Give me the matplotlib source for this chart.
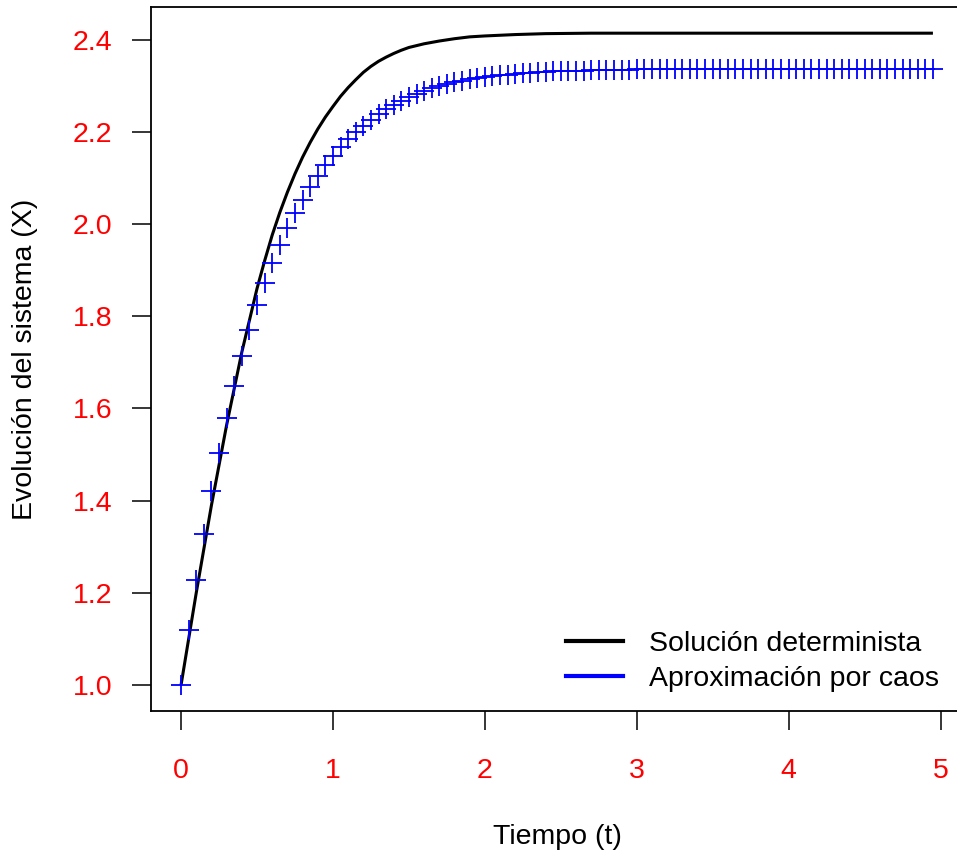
import numpy as np
import matplotlib
matplotlib.use("Agg")
from matplotlib import pyplot as plt
from matplotlib.lines import Line2D

# DATA
t_det = [0.0, 0.1, 0.2, 0.3, 0.4, 0.5, 0.55, 0.6, 0.65, 0.7, 0.75, 0.8, 0.85,
         0.9, 0.95, 1.0, 1.05, 1.1, 1.15, 1.2, 1.25, 1.3, 1.35, 1.4, 1.45, 1.5,
         1.6, 1.7, 1.8, 1.9, 2.0, 2.2, 2.4, 2.7, 3.0, 4.0, 4.95]
x_det = [1.000, 1.200, 1.390, 1.564, 1.722, 1.860, 1.920, 1.976, 2.025, 2.069,
         2.109, 2.145, 2.177, 2.206, 2.232, 2.255, 2.277, 2.296, 2.313, 2.329,
         2.342, 2.353, 2.362, 2.370, 2.377, 2.383, 2.391, 2.397, 2.402, 2.406,
         2.408, 2.411, 2.413, 2.414, 2.414, 2.414, 2.414]

t_pc = np.arange(100) * 0.05
x_pc = [1.000, 1.119, 1.228, 1.328, 1.420, 1.503, 1.580, 1.649, 1.713, 1.771,
        1.824, 1.872, 1.915, 1.954, 1.991, 2.024, 2.053, 2.080, 2.104, 2.127,
        2.147, 2.166, 2.184, 2.199, 2.213, 2.226, 2.238, 2.249, 2.258, 2.267,
        2.275, 2.282, 2.288, 2.294, 2.299, 2.303, 2.307, 2.311, 2.314, 2.317,
        2.319, 2.321, 2.323, 2.324, 2.326, 2.327, 2.328, 2.329, 2.330, 2.331,
        2.332, 2.332, 2.333, 2.333, 2.334, 2.334, 2.334, 2.335, 2.335, 2.335,
        2.336, 2.336, 2.336, 2.336, 2.336, 2.336, 2.336, 2.336, 2.336, 2.336,
        2.336, 2.337, 2.337, 2.337, 2.337, 2.337, 2.337, 2.337, 2.337, 2.337,
        2.337, 2.337, 2.337, 2.337, 2.337, 2.337, 2.337, 2.337, 2.337, 2.337,
        2.337, 2.337, 2.337, 2.337, 2.337, 2.337, 2.337, 2.337, 2.337, 2.337]

x_ticks = [0, 1, 2, 3, 4, 5]
y_ticks = [1.0, 1.2, 1.4, 1.6, 1.8, 2.0, 2.2, 2.4]
legend_labels = ["Solución determinista", "Aproximación por caos"]

plt.rcParams["font.family"] = ["Liberation Sans", "DejaVu Sans"]
fs = 20.5

# FIGURE
W, H = 957, 859
fig = plt.figure(figsize=(W / 100, H / 100), dpi=100)
left, right, top, bottom = 151, 963, 7, 711
ax = fig.add_axes([left / W, 1 - bottom / H, (right - left) / W, (bottom - top) / H])

ax.plot(t_det, x_det, color="black", lw=2.2, solid_capstyle="butt",
        solid_joinstyle="round")
ax.plot(t_pc, x_pc, linestyle="none", marker="+", markersize=14.5,
        markeredgewidth=1.3, color="#0000ff")

ax.set_xlim(-0.198, 5.148)
ax.set_ylim(0.9434, 2.4708)
ax.set_xticks(x_ticks)
ax.set_xticklabels([str(v) for v in x_ticks])
ax.set_yticks(y_ticks)
ax.set_yticklabels(["%.1f" % v for v in y_ticks])
ax.tick_params(axis="x", length=13.5, width=1.1, pad=20, labelsize=fs, labelcolor="red")
ax.tick_params(axis="y", length=13.5, width=1.1, pad=14.5, labelsize=fs, labelcolor="red")
for s in ax.spines.values():
    s.set_linewidth(1.3)

fig.text(557 / W, 1 - 837 / H, "Tiempo (t)", ha="center", va="center", fontsize=fs)
fig.text(25 / W, 1 - 359 / H, "Evolución del sistema (X)", ha="center", va="center",
         rotation=90, fontsize=fs)

handles = [Line2D([0], [0], color="black", lw=3),
           Line2D([0], [0], color="#0000ff", lw=3)]
ax.legend(handles, legend_labels, loc="upper left", frameon=False, fontsize=fs,
          handlelength=2.0, handletextpad=0.9, labelspacing=0.3, borderpad=0.4,
          borderaxespad=0,
          bbox_to_anchor=(555 / W, 1 - 620 / H), bbox_transform=fig.transFigure)

fig.savefig("out.png", dpi=100)
